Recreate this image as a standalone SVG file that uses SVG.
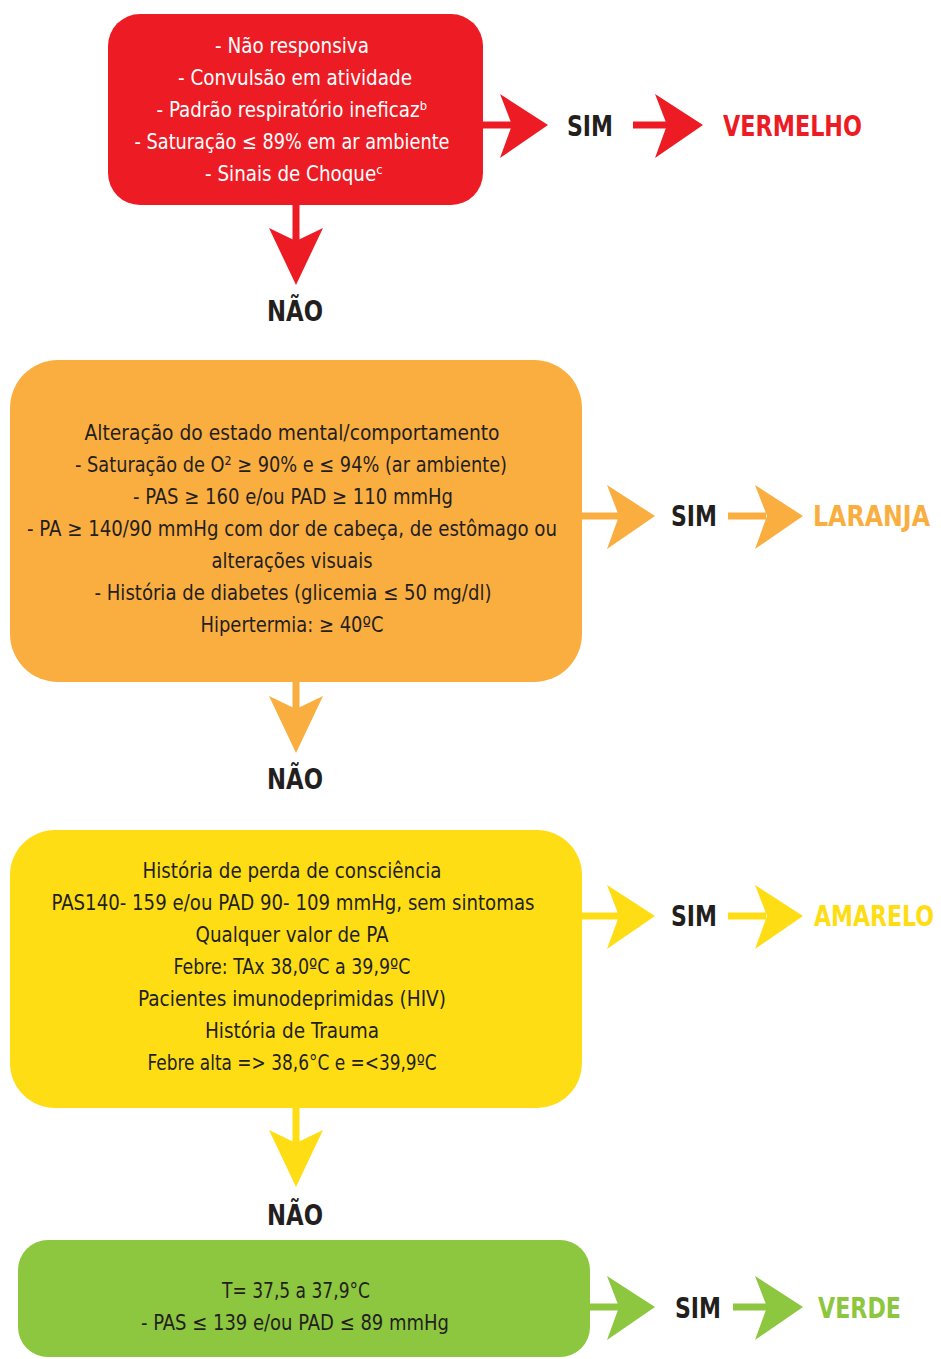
<svg xmlns="http://www.w3.org/2000/svg" width="941" height="1359" viewBox="0 0 941 1359">
<style>
.bt{font-family:"Liberation Sans Narrow","DejaVu Sans Condensed","Liberation Sans",sans-serif;font-size:21px;text-anchor:middle;fill:#231F20}
.w{fill:#FFFFFF}
.lb{font-family:"Liberation Sans Narrow","DejaVu Sans Condensed","Liberation Sans",sans-serif;font-size:29px;font-weight:bold;fill:#231F20}
.red{fill:#ED1C24}.org{fill:#FBAE40}.yel{fill:#FFDD15}.grn{fill:#8DC63F}
</style>
<defs>
<path id="headR" d="M-48,-31 L0,0 L-48,33 L-36,0 Z"/>
<path id="headD" d="M-27,-57 L0,0 L27,-57 L0,-44 Z"/>
</defs>
<rect width="941" height="1359" fill="#FFFFFF"/>

<g id="connectors">
<g class="red">
<rect x="483" y="121.5" width="32" height="7"/><use href="#headR" x="548" y="125"/>
<rect x="633" y="121.5" width="38" height="7"/><use href="#headR" x="703" y="125"/>
<rect x="292.5" y="204" width="7" height="42"/><use href="#headD" x="296" y="285"/>
</g>
<g class="org">
<rect x="580" y="512.5" width="40" height="7"/><use href="#headR" x="655" y="516"/>
<rect x="728" y="512.5" width="38" height="7"/><use href="#headR" x="803" y="516"/>
<rect x="292.5" y="680" width="7" height="34"/><use href="#headD" x="296" y="753"/>
</g>
<g class="yel">
<rect x="580" y="912.5" width="40" height="7"/><use href="#headR" x="655" y="916"/>
<rect x="728" y="912.5" width="38" height="7"/><use href="#headR" x="803" y="916"/>
<rect x="292.5" y="1106" width="7" height="40"/><use href="#headD" x="296" y="1187"/>
</g>
<g class="grn">
<rect x="588" y="1303.5" width="34" height="7"/><use href="#headR" x="655" y="1307"/>
<rect x="733" y="1303.5" width="36" height="7"/><use href="#headR" x="803" y="1307"/>
</g>
<text class="lb" x="567" y="136" textLength="46" lengthAdjust="spacingAndGlyphs">SIM</text>
<text class="lb" x="671" y="526" textLength="46" lengthAdjust="spacingAndGlyphs">SIM</text>
<text class="lb" x="671" y="926" textLength="46" lengthAdjust="spacingAndGlyphs">SIM</text>
<text class="lb" x="675" y="1318" textLength="46" lengthAdjust="spacingAndGlyphs">SIM</text>
<text class="lb" x="267" y="321" textLength="56" lengthAdjust="spacingAndGlyphs">NÃO</text>
<text class="lb" x="267" y="789" textLength="56" lengthAdjust="spacingAndGlyphs">NÃO</text>
<text class="lb" x="267" y="1225" textLength="56" lengthAdjust="spacingAndGlyphs">NÃO</text>
</g>

<g id="node-vermelho-label"><text class="lb red" x="723" y="136" textLength="139" lengthAdjust="spacingAndGlyphs">VERMELHO</text></g>
<g id="node-laranja-label"><text class="lb org" x="813" y="526" textLength="117" lengthAdjust="spacingAndGlyphs">LARANJA</text></g>
<g id="node-amarelo-label"><text class="lb yel" transform="translate(814 926) scale(0.75 1)" x="0" y="0" textLength="160" lengthAdjust="spacingAndGlyphs">AMARELO</text></g>
<g id="node-verde-label"><text class="lb grn" x="818" y="1318" textLength="83" lengthAdjust="spacingAndGlyphs">VERDE</text></g>

<g id="node-red">
<rect class="red" x="108" y="14" width="375" height="191" rx="32"/>
<text class="bt w" x="292" y="53" textLength="154" lengthAdjust="spacingAndGlyphs">- Não responsiva</text>
<text class="bt w" x="295" y="85" textLength="234" lengthAdjust="spacingAndGlyphs">- Convulsão em atividade</text>
<text class="bt w" x="292" y="117" textLength="271" lengthAdjust="spacingAndGlyphs">- Padrão respiratório ineficazᵇ</text>
<text class="bt w" x="292" y="149" textLength="315" lengthAdjust="spacingAndGlyphs">- Saturação ≤ 89% em ar ambiente</text>
<text class="bt w" x="294" y="181" textLength="178" lengthAdjust="spacingAndGlyphs">- Sinais de Choqueᶜ</text>
</g>

<g id="node-orange">
<rect class="org" x="10" y="360" width="572" height="322" rx="48"/>
<text class="bt" x="292" y="440" textLength="415" lengthAdjust="spacingAndGlyphs">Alteração do estado mental/comportamento</text>
<text class="bt" x="291" y="472" textLength="432" lengthAdjust="spacingAndGlyphs">- Saturação de O² ≥ 90% e ≤ 94% (ar ambiente)</text>
<text class="bt" x="293" y="504" textLength="320" lengthAdjust="spacingAndGlyphs">- PAS ≥ 160 e/ou PAD ≥ 110 mmHg</text>
<text class="bt" x="292" y="536" textLength="530" lengthAdjust="spacingAndGlyphs">- PA ≥ 140/90 mmHg com dor de cabeça, de estômago ou</text>
<text class="bt" x="292" y="568" textLength="161" lengthAdjust="spacingAndGlyphs">alterações visuais</text>
<text class="bt" x="293" y="600" textLength="397" lengthAdjust="spacingAndGlyphs">- História de diabetes (glicemia ≤ 50 mg/dl)</text>
<text class="bt" x="292" y="632" textLength="183" lengthAdjust="spacingAndGlyphs">Hipertermia: ≥ 40ºC</text>
</g>

<g id="node-yellow">
<rect class="yel" x="10" y="830" width="572" height="278" rx="45"/>
<text class="bt" x="292" y="878" textLength="299" lengthAdjust="spacingAndGlyphs">História de perda de consciência</text>
<text class="bt" x="293" y="910" textLength="483" lengthAdjust="spacingAndGlyphs">PAS140- 159 e/ou PAD 90- 109 mmHg, sem sintomas</text>
<text class="bt" x="292" y="942" textLength="193" lengthAdjust="spacingAndGlyphs">Qualquer valor de PA</text>
<text class="bt" x="292" y="974" textLength="237" lengthAdjust="spacingAndGlyphs">Febre: TAx 38,0ºC a 39,9ºC</text>
<text class="bt" x="292" y="1006" textLength="308" lengthAdjust="spacingAndGlyphs">Pacientes imunodeprimidas (HIV)</text>
<text class="bt" x="292" y="1038" textLength="174" lengthAdjust="spacingAndGlyphs">História de Trauma</text>
<text class="bt" x="292" y="1070" textLength="289" lengthAdjust="spacingAndGlyphs">Febre alta =&gt; 38,6°C e =&lt;39,9ºC</text>
</g>

<g id="node-green">
<rect class="grn" x="18" y="1240" width="572" height="117" rx="30"/>
<text class="bt" x="296" y="1298" textLength="148" lengthAdjust="spacingAndGlyphs">T= 37,5 a 37,9°C</text>
<text class="bt" x="295" y="1330" textLength="308" lengthAdjust="spacingAndGlyphs">- PAS ≤ 139 e/ou PAD ≤ 89 mmHg</text>
</g>
</svg>
